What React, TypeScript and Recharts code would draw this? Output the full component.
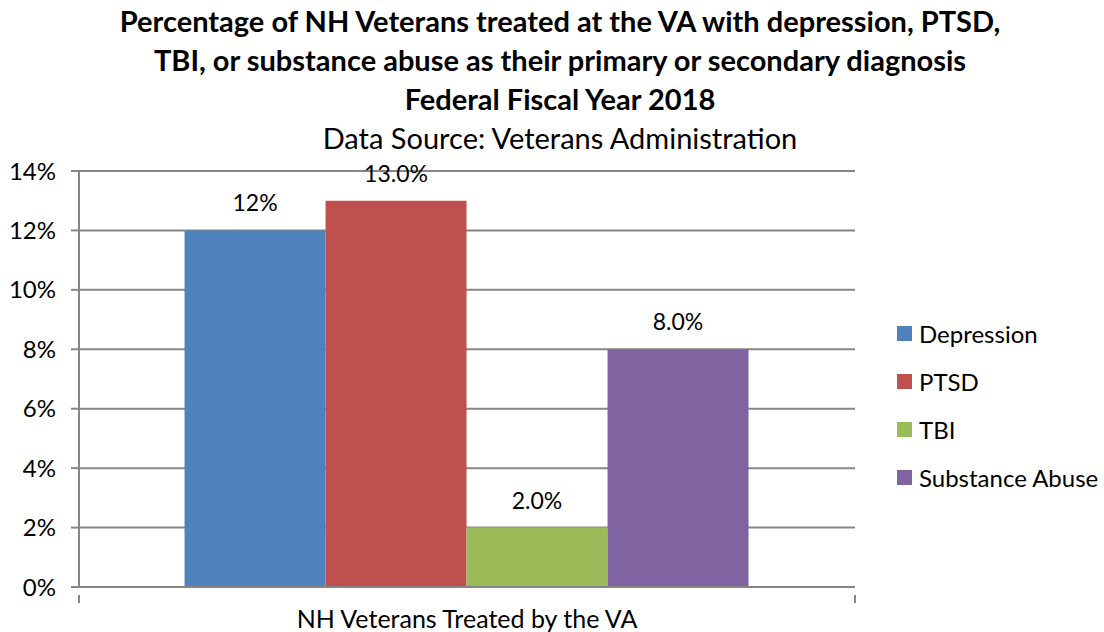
import React from 'react';
import {
  BarChart,
  Bar,
  XAxis,
  YAxis,
  CartesianGrid,
  Legend,
  LabelList,
} from 'recharts';

const categories = ['NH Veterans Treated by the VA'];
const seriesNames = ['Depression', 'PTSD', 'TBI', 'Substance Abuse'];
const seriesValues = [0.12, 0.13, 0.02, 0.08];
const seriesColors = ['#4F81BD', '#C0504D', '#9BBB59', '#8064A2'];
const labelFormats = ['0%', '0.0%', '0.0%', '0.0%'];
const yTicks = [0, 0.02, 0.04, 0.06, 0.08, 0.1, 0.12, 0.14];

const titleLines = [
  'Percentage of NH Veterans treated at the VA with depression, PTSD,',
  'TBI, or substance abuse as their primary or secondary diagnosis',
  'Federal Fiscal Year 2018',
];
const subtitle = 'Data Source: Veterans Administration';

const data = categories.map((name) => {
  const row: Record<string, string | number> = { name };
  seriesNames.forEach((s, i) => {
    row[s] = seriesValues[i];
  });
  return row;
});

const FONT = 'Lato, "Liberation Sans", sans-serif';
const AXIS = '#868686';
const PLOT_LEFT = 79;
const PLOT_RIGHT = 855;

function fmt(v: number, pattern: string) {
  const digits = pattern === '0%' ? 0 : 1;
  return (v * 100).toFixed(digits) + '%';
}

function CategoryTick(props: any) {
  const { x, y, payload } = props;
  const half = (PLOT_RIGHT - PLOT_LEFT) / 2;
  return (
    <g>
      <line x1={x - half} x2={x - half} y1={y} y2={y + 8} stroke={AXIS} strokeWidth={2} />
      <line x1={x + half} x2={x + half} y1={y} y2={y + 8} stroke={AXIS} strokeWidth={2} />
      <text x={x} y={y + 33} textAnchor="middle" fontSize={25} fill="#000" fontFamily={FONT}>
        {payload.value}
      </text>
    </g>
  );
}

function LegendBox() {
  return (
    <div style={{ fontFamily: FONT, fontSize: 24, color: '#000' }}>
      {seriesNames.map((s, i) => (
        <div key={s} style={{ display: 'flex', alignItems: 'center', height: 48 }}>
          <span
            style={{
              display: 'inline-block',
              width: 15,
              height: 15,
              background: seriesColors[i],
              marginRight: 7,
            }}
          />
          <span>{s}</span>
        </div>
      ))}
    </div>
  );
}

export default function App() {
  return (
    <div
      style={{
        position: 'absolute',
        left: 0,
        top: 0,
        width: 1104,
        height: 632,
        background: '#fff',
        fontFamily: FONT,
      }}
    >
      <div
        style={{
          position: 'absolute',
          left: 0,
          top: 1,
          width: 1120,
          textAlign: 'center',
          fontWeight: 700,
          fontSize: 29,
          lineHeight: '39px',
          color: '#000',
        }}
      >
        {titleLines.map((t) => (
          <div key={t}>{t}</div>
        ))}
        <div style={{ fontWeight: 400, fontSize: 29 }}>{subtitle}</div>
      </div>
      <BarChart
        width={1104}
        height={632}
        data={data}
        margin={{ top: 171, right: 1104 - PLOT_RIGHT, bottom: 0, left: 0 }}
        barCategoryGap="13.6%"
        barGap={0}
        style={{ position: 'absolute', left: 0, top: 0 }}
      >
        <CartesianGrid vertical={false} stroke={AXIS} strokeWidth={2} />
        <XAxis
          dataKey="name"
          stroke={AXIS}
          strokeWidth={2}
          tickLine={false}
          tick={<CategoryTick />}
          interval={0}
          height={45}
        />
        <YAxis
          width={PLOT_LEFT}
          domain={[0, 0.14]}
          ticks={yTicks}
          tickFormatter={(v: number) => `${Math.round(v * 100)}%`}
          stroke={AXIS}
          strokeWidth={2}
          tickSize={8}
          tickMargin={15}
          tick={{ fill: '#000', fontSize: 24, fontFamily: FONT }}
          interval={0}
        />
        <Legend
          layout="horizontal"
          verticalAlign="middle"
          align="center"
          content={<LegendBox />}
          wrapperStyle={{ position: 'absolute', left: 897, top: 309, width: 207 }}
        />
        {seriesNames.map((s, i) => (
          <Bar key={s} dataKey={s} fill={seriesColors[i]} isAnimationActive={false}>
            <LabelList
              dataKey={s}
              position="top"
              offset={19}
              fill="#000"
              fontSize={23}
              fontFamily={FONT}
              formatter={(v: any) => fmt(Number(v), labelFormats[i])}
            />
          </Bar>
        ))}
      </BarChart>
    </div>
  );
}
